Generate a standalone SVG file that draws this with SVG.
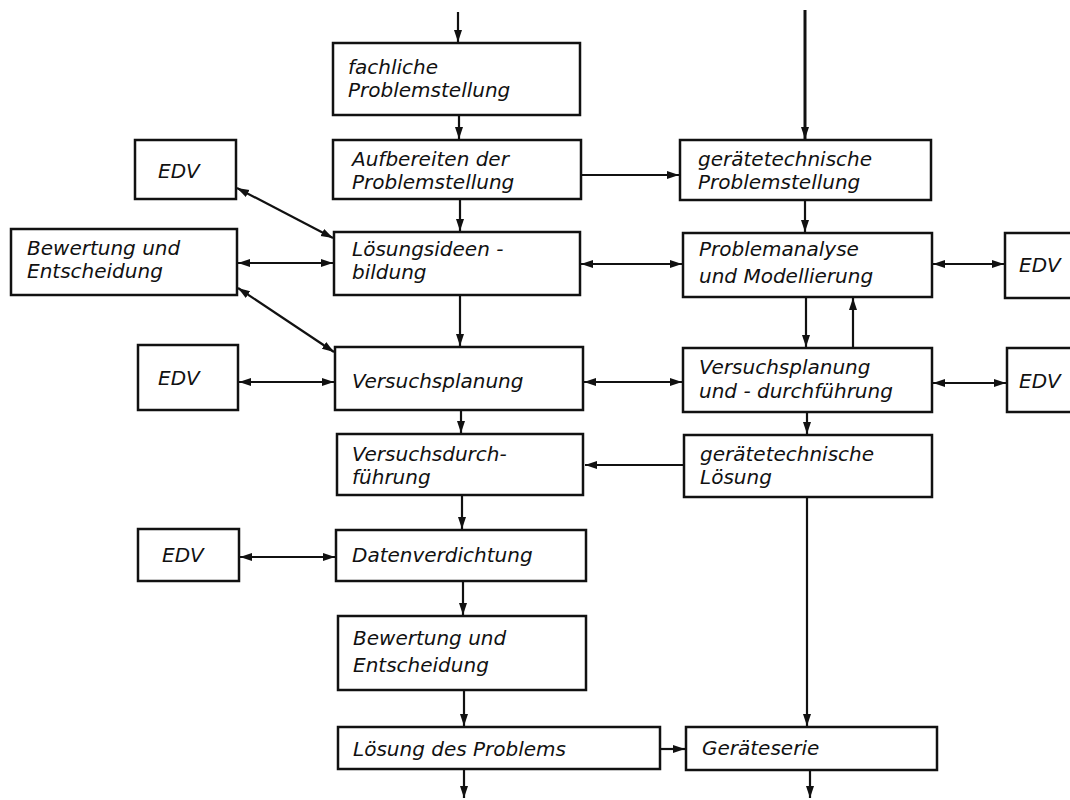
<svg xmlns="http://www.w3.org/2000/svg" width="1070" height="800" viewBox="0 0 1070 800">
<defs>
<marker id="ah" markerUnits="userSpaceOnUse" markerWidth="14" markerHeight="10" refX="12" refY="5" orient="auto-start-reverse">
<path d="M0,1 L12,5 L0,9 z" fill="#111"/>
</marker>
<style>
.box{fill:#fff;stroke:#111;stroke-width:2.5}
.t{font-family:"DejaVu Sans","Liberation Sans",sans-serif;font-style:italic;font-size:20px;fill:#111}
.c{fill:none;stroke:#111;stroke-width:2.2}
.a{marker-end:url(#ah)}
.d{marker-start:url(#ah);marker-end:url(#ah)}
</style>
</defs>
<rect width="1070" height="800" fill="#fff"/>
<g id="connectors">
<line class="c a" x1="458" y1="12" x2="458" y2="42"/>
<line class="c a" x1="805" y1="10" x2="805" y2="139" style="stroke-width:3"/>
<line class="c a" x1="459" y1="115" x2="459" y2="139"/>
<line class="c a" x1="581" y1="175" x2="679" y2="175"/>
<line class="c a" x1="460" y1="199" x2="460" y2="231"/>
<line class="c a" x1="805" y1="200" x2="805" y2="232"/>
<line class="c d" x1="237" y1="188" x2="333" y2="238"/>
<line class="c d" x1="238" y1="263" x2="333" y2="263"/>
<line class="c d" x1="238" y1="288" x2="334" y2="352"/>
<line class="c d" x1="581" y1="264" x2="682" y2="264"/>
<line class="c d" x1="933" y1="264" x2="1004" y2="264"/>
<line class="c a" x1="460" y1="295" x2="460" y2="346"/>
<line class="c a" x1="806" y1="297" x2="806" y2="347"/>
<line class="c a" x1="853" y1="348" x2="853" y2="298"/>
<line class="c d" x1="239" y1="382" x2="334" y2="382"/>
<line class="c d" x1="584" y1="382" x2="682" y2="382"/>
<line class="c d" x1="933" y1="383" x2="1006" y2="383"/>
<line class="c a" x1="461" y1="410" x2="461" y2="433"/>
<line class="c a" x1="807" y1="412" x2="807" y2="434"/>
<line class="c a" x1="684" y1="465" x2="585" y2="465"/>
<line class="c a" x1="462" y1="495" x2="462" y2="529"/>
<line class="c d" x1="240" y1="557" x2="335" y2="557"/>
<line class="c a" x1="463" y1="581" x2="463" y2="615"/>
<line class="c a" x1="464" y1="690" x2="464" y2="726"/>
<line class="c a" x1="807" y1="497" x2="807" y2="726"/>
<line class="c a" x1="660" y1="749" x2="685" y2="749"/>
<line class="c a" x1="464" y1="769" x2="464" y2="798"/>
<line class="c a" x1="810" y1="770" x2="810" y2="798"/>
</g>
<g id="n-fachliche"><rect class="box" x="333" y="43" width="247" height="72"/><text class="t" x="348" y="74">fachliche</text><text class="t" x="348" y="97">Problemstellung</text></g>
<g id="n-aufbereiten"><rect class="box" x="333" y="140" width="248" height="59"/><text class="t" x="352" y="166">Aufbereiten der</text><text class="t" x="352" y="189">Problemstellung</text></g>
<g id="n-geraet-problem"><rect class="box" x="680" y="140" width="251" height="60"/><text class="t" x="698" y="166">gerätetechnische</text><text class="t" x="698" y="189">Problemstellung</text></g>
<g id="n-edv1"><rect class="box" x="135" y="140" width="101" height="59"/><text class="t" x="158" y="178">EDV</text></g>
<g id="n-bewertung-links"><rect class="box" x="11" y="229" width="226" height="66"/><text class="t" x="27" y="255">Bewertung und</text><text class="t" x="27" y="278">Entscheidung</text></g>
<g id="n-loesungsideen"><rect class="box" x="334" y="232" width="246" height="63"/><text class="t" x="352" y="256">Lösungsideen -</text><text class="t" x="352" y="279">bildung</text></g>
<g id="n-problemanalyse"><rect class="box" x="683" y="233" width="249" height="64"/><text class="t" x="699" y="256">Problemanalyse</text><text class="t" x="699" y="283">und Modellierung</text></g>
<g id="n-edv-r1"><rect class="box" x="1005" y="233" width="75" height="65"/><text class="t" x="1019" y="272">EDV</text></g>
<g id="n-edv2"><rect class="box" x="138" y="345" width="100" height="65"/><text class="t" x="158" y="385">EDV</text></g>
<g id="n-versuchsplanung"><rect class="box" x="335" y="347" width="248" height="63"/><text class="t" x="352" y="388">Versuchsplanung</text></g>
<g id="n-versuchsplanung-durch"><rect class="box" x="683" y="348" width="249" height="64"/><text class="t" x="699" y="374">Versuchsplanung</text><text class="t" x="699" y="398">und - durchführung</text></g>
<g id="n-edv-r2"><rect class="box" x="1007" y="348" width="73" height="64"/><text class="t" x="1019" y="388">EDV</text></g>
<g id="n-versuchsdurch"><rect class="box" x="337" y="434" width="246" height="61"/><text class="t" x="352" y="461">Versuchsdurch-</text><text class="t" x="352" y="484">führung</text></g>
<g id="n-geraet-loesung"><rect class="box" x="684" y="435" width="248" height="62"/><text class="t" x="700" y="461">gerätetechnische</text><text class="t" x="700" y="484">Lösung</text></g>
<g id="n-edv3"><rect class="box" x="138" y="529" width="101" height="52"/><text class="t" x="162" y="562">EDV</text></g>
<g id="n-datenverdichtung"><rect class="box" x="336" y="530" width="250" height="51"/><text class="t" x="352" y="562">Datenverdichtung</text></g>
<g id="n-bewertung"><rect class="box" x="338" y="616" width="248" height="74"/><text class="t" x="353" y="645">Bewertung und</text><text class="t" x="353" y="672">Entscheidung</text></g>
<g id="n-loesung"><rect class="box" x="338" y="727" width="322" height="42"/><text class="t" x="353" y="756">Lösung des Problems</text></g>
<g id="n-geraeteserie"><rect class="box" x="686" y="727" width="251" height="43"/><text class="t" x="702" y="755">Geräteserie</text></g>
</svg>
